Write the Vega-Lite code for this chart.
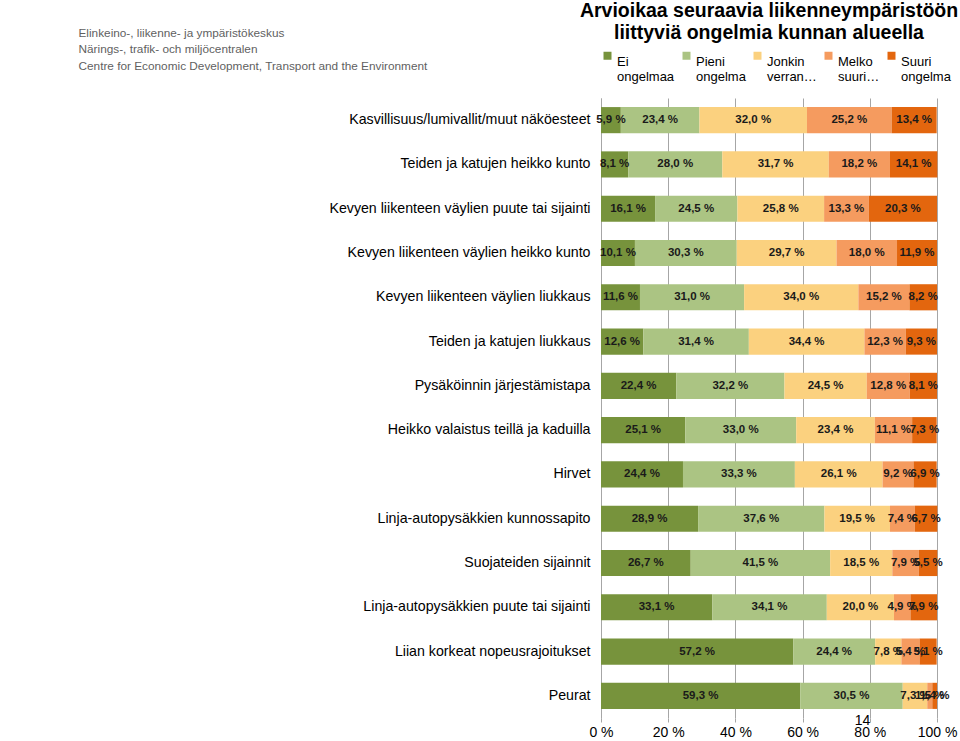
{
  "$schema": "https://vega.github.io/schema/vega-lite/v6.json",
  "width": 336,
  "height": 620,
  "autosize": {"type": "none"},
  "padding": {"left": 601, "top": 98, "right": 23, "bottom": 23},
  "background": "white",
  "config": {"font": "Liberation Sans", "view": {"stroke": null}},
  "title": {
    "text": ["Arvioikaa seuraavia liikenneympäristöön", "liittyviä ongelmia kunnan alueella"],
    "anchor": "middle",
    "frame": "group",
    "fontSize": 19.5,
    "fontWeight": "bold",
    "color": "#000000",
    "lineHeight": 22,
    "offset": 8,
    "dy": 24
  },
  "data": {
    "values": [
      {"k": "Kasvillisuus/lumivallit/muut näköesteet", "r": 1, "a": 5.9, "b": 23.4, "c": 32.0, "d": 25.2, "e": 13.4},
      {"k": "Teiden ja katujen heikko kunto", "r": 2, "a": 8.1, "b": 28.0, "c": 31.7, "d": 18.2, "e": 14.1},
      {"k": "Kevyen liikenteen väylien puute tai sijainti", "r": 3, "a": 16.1, "b": 24.5, "c": 25.8, "d": 13.3, "e": 20.3},
      {"k": "Kevyen liikenteen väylien heikko kunto", "r": 4, "a": 10.1, "b": 30.3, "c": 29.7, "d": 18.0, "e": 11.9},
      {"k": "Kevyen liikenteen väylien liukkaus", "r": 5, "a": 11.6, "b": 31.0, "c": 34.0, "d": 15.2, "e": 8.2},
      {"k": "Teiden ja katujen liukkaus", "r": 6, "a": 12.6, "b": 31.4, "c": 34.4, "d": 12.3, "e": 9.3},
      {"k": "Pysäköinnin järjestämistapa", "r": 7, "a": 22.4, "b": 32.2, "c": 24.5, "d": 12.8, "e": 8.1},
      {"k": "Heikko valaistus teillä ja kaduilla", "r": 8, "a": 25.1, "b": 33.0, "c": 23.4, "d": 11.1, "e": 7.3},
      {"k": "Hirvet", "r": 9, "a": 24.4, "b": 33.3, "c": 26.1, "d": 9.2, "e": 6.9},
      {"k": "Linja-autopysäkkien kunnossapito", "r": 10, "a": 28.9, "b": 37.6, "c": 19.5, "d": 7.4, "e": 6.7},
      {"k": "Suojateiden sijainnit", "r": 11, "a": 26.7, "b": 41.5, "c": 18.5, "d": 7.9, "e": 5.5},
      {"k": "Linja-autopysäkkien puute tai sijainti", "r": 12, "a": 33.1, "b": 34.1, "c": 20.0, "d": 4.9, "e": 7.9},
      {"k": "Liian korkeat nopeusrajoitukset", "r": 13, "a": 57.2, "b": 24.4, "c": 7.8, "d": 5.4, "e": 5.1},
      {"k": "Peurat", "r": 14, "a": 59.3, "b": 30.5, "c": 7.3, "d": 1.5, "e": 1.4}
    ]
  },
  "transform": [
    {"fold": ["a", "b", "c", "d", "e"], "as": ["s", "v"]},
    {"stack": "v", "groupby": ["k"], "sort": [{"field": "s", "order": "ascending"}], "as": ["x0", "x1"]},
    {"calculate": "(datum.x0 + datum.x1) / 2", "as": "xm"},
    {"calculate": "replace(format(datum.v, '.1f'), '.', ',') + ' %'", "as": "lab"}
  ],
  "encoding": {
    "y": {
      "field": "k",
      "type": "nominal",
      "sort": {"field": "r", "op": "min", "order": "ascending"},
      "scale": {"paddingInner": 0.41, "paddingOuter": 0.205},
      "axis": {
        "title": ["Elinkeino-, liikenne- ja ympäristökeskus", "Närings-, trafik- och miljöcentralen", "Centre for Economic Development, Transport and the Environment"],
        "titleAngle": 0,
        "titleAlign": "left",
        "titleBaseline": "top",
        "titleX": -523,
        "titleY": -71,
        "titleFontSize": 11.8,
        "titleFontWeight": "normal",
        "titleColor": "#5f5f5f",
        "titleLineHeight": 16.5,
        "labelFontSize": 14.2,
        "labelColor": "#000000",
        "labelPadding": 11,
        "labelLimit": 600,
        "ticks": false,
        "domainColor": "#a6a6a6",
        "grid": false
      }
    }
  },
  "layer": [
    {
      "mark": {"type": "bar"},
      "encoding": {
        "x": {
          "field": "x0",
          "type": "quantitative",
          "scale": {"domain": [0, 100], "nice": false},
          "axis": {
            "values": [0, 20, 40, 60, 80, 100],
            "labelExpr": "datum.value + ' %'",
            "labelFontSize": 14,
            "labelColor": "#000000",
            "labelFlush": false,
            "labelOverlap": false,
            "labelPadding": 3,
            "domain": false,
            "ticks": true,
            "tickSize": 4,
            "tickColor": "#a6a6a6",
            "grid": true,
            "gridColor": "#a6a6a6",
            "title": "14",
            "titleFontSize": 14,
            "titleFontWeight": "normal",
            "titleColor": "#000000",
            "titleX": 261,
            "titleY": 2,
            "titleAlign": "center",
            "titleBaseline": "middle"
          }
        },
        "x2": {"field": "x1"},
        "color": {
          "field": "s",
          "type": "nominal",
          "scale": {"domain": ["a", "b", "c", "d", "e"], "range": ["#77933c", "#abc483", "#fbd17f", "#f59b5f", "#e3660e"]},
          "legend": {
            "orient": "top",
            "direction": "horizontal",
            "title": null,
            "symbolType": "square",
            "symbolSize": 64,
            "symbolStrokeWidth": 0,
            "labelFontSize": 13,
            "labelColor": "#000000",
            "labelBaseline": "top",
            "labelOffset": 3,
            "labelLimit": 200,
            "columnPadding": 5,
            "offset": 14,
            "padding": 0,
            "labelExpr": "datum.value == 'a' ? ['Ei', 'ongelmaa'] : datum.value == 'b' ? ['Pieni', 'ongelma'] : datum.value == 'c' ? ['Jonkin', 'verran…'] : datum.value == 'd' ? ['Melko', 'suuri…'] : ['Suuri', 'ongelma']"
          }
        }
      }
    },
    {
      "mark": {"type": "text", "fontWeight": "bold", "fontSize": 11.5, "color": "#1a1a1a"},
      "encoding": {
        "x": {"field": "xm", "type": "quantitative"},
        "text": {"field": "lab", "type": "nominal"}
      }
    }
  ]
}
